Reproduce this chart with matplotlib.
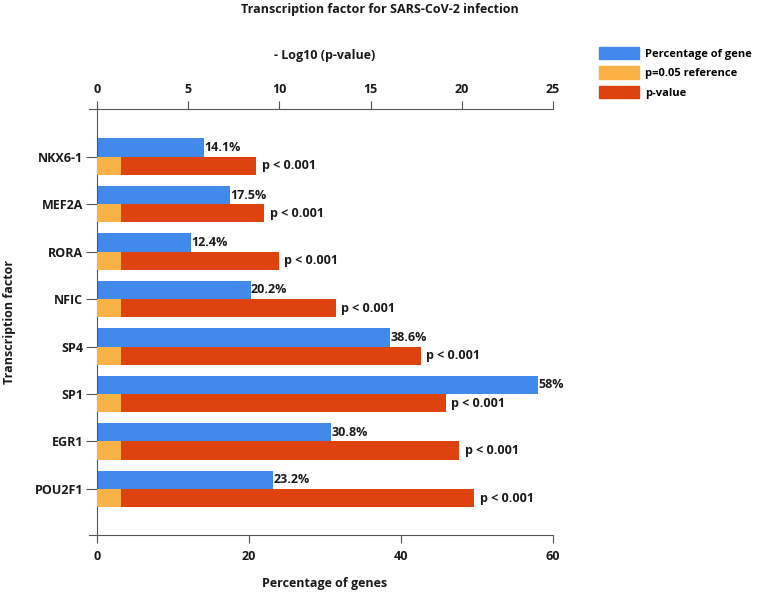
import matplotlib
matplotlib.use("Agg")
import matplotlib.pyplot as plt
from matplotlib.patches import Patch
import numpy as np

plt.rcParams['font.family'] = ['Open Sans', 'DejaVu Sans']
plt.rcParams['font.weight'] = 'bold'

categories = ["NKX6-1", "MEF2A", "RORA", "NFIC", "SP4", "SP1", "EGR1", "POU2F1"]
pct_genes = [14.1, 17.5, 12.4, 20.2, 38.6, 58, 30.8, 23.2]
pct_labels = ["14.1%", "17.5%", "12.4%", "20.2%", "38.6%", "58%", "30.8%", "23.2%"]
neg_log_p = [8.72, 9.17, 9.98, 13.10, 17.75, 19.12, 19.86, 20.69]
p_labels = ["p < 0.001"] * 8
ref_p = 0.05
ref_val = -np.log10(ref_p)

c_blue = "#4189EB"
c_orange = "#FAB246"
c_red = "#DE420E"
FS = 9
FS_LEG = 8

fig = plt.figure(figsize=(7.61, 5.99), dpi=100)
L, R = 89 / 761, 553 / 761
T, B = 1 - 109 / 599, 1 - 535 / 599
ax = fig.add_axes([L, B, R - L, T - B])
ax2 = ax.twiny()

y = np.arange(len(categories))
h = 0.385

ax.barh(y - h / 2, pct_genes, height=h, color=c_blue, zorder=2)
for yi, v, lab in zip(y, pct_genes, pct_labels):
    ax.text(v + 0.02, yi - h / 2, lab, va="center", ha="left", fontsize=FS, fontweight="bold",
            color="#1a1a1a")

ax2.barh(y + h / 2, [ref_val] * len(y), height=h, color=c_orange, zorder=2)
ax2.barh(y + h / 2, [v - ref_val for v in neg_log_p], left=ref_val, height=h, color=c_red, zorder=2)
for yi, v, lab in zip(y, neg_log_p, p_labels):
    ax2.text(v + 0.3, yi + h / 2, lab, va="center", ha="left", fontsize=FS, fontweight="bold",
             color="#1a1a1a")

xmin_b = -1.05
ax.set_xlim(xmin_b, 60)
ax2.set_xlim(xmin_b * 25 / 60, 25)
ax.set_ylim(7 + 0.97, -1.005)
ax2.set_ylim(7 + 0.97, -1.005)

ax.set_xticks([0, 20, 40, 60])
ax2.set_xticks([0, 5, 10, 15, 20, 25])
ax.set_yticks(y)
ax.set_yticklabels(categories)

for a in (ax, ax2):
    a.spines['right'].set_visible(False)
    a.tick_params(colors="#555555", labelcolor="#1a1a1a", labelsize=FS, length=6, width=0.8,
                  direction="out")
ax.tick_params(axis='y', length=8, pad=2)
ax.tick_params(axis='x', pad=5)
ax2.tick_params(axis='x', pad=3)
ax.spines['top'].set_visible(False)
ax.spines['left'].set_position(('data', 0))
ax2.spines['left'].set_visible(False)
ax2.spines['bottom'].set_visible(False)
for s in (ax.spines['left'], ax.spines['bottom'], ax2.spines['top']):
    s.set_color("#555555")
    s.set_linewidth(0.8)

for lbl in ax.get_xticklabels() + ax.get_yticklabels() + ax2.get_xticklabels():
    lbl.set_fontweight("bold")

xc = (97 / 761 + R) / 2
fig.text(xc, 1 - 583 / 599, "Percentage of genes", ha="center", va="center",
         fontsize=FS, fontweight="bold", color="#1a1a1a")
fig.text(xc, 1 - 55 / 599, "- Log10 (p-value)", ha="center", va="center",
         fontsize=FS, fontweight="bold", color="#1a1a1a")
fig.text(10 / 761, (T + B) / 2, "Transcription factor", rotation=90, va="center", ha="center",
         fontsize=FS, fontweight="bold", color="#1a1a1a")

fig.text(380 / 761, 1 - 10 / 599, "Transcription factor for SARS-CoV-2 infection",
         ha="center", va="center", fontsize=FS, fontweight="bold", color="#1a1a1a")

handles = [Patch(color=c_blue, label="Percentage of gene"),
           Patch(color=c_orange, label="p=0.05 reference"),
           Patch(color=c_red, label="p-value")]
fig.legend(handles=handles, loc="upper left", bbox_to_anchor=(599 / 761, 1 - 47 / 599),
           frameon=False, handlelength=3.6, handleheight=1.35,
           labelspacing=0.58, handletextpad=0.55, borderaxespad=0, borderpad=0,
           prop={'weight': 'bold', 'size': FS_LEG})

fig.savefig("out.png", dpi=100)
